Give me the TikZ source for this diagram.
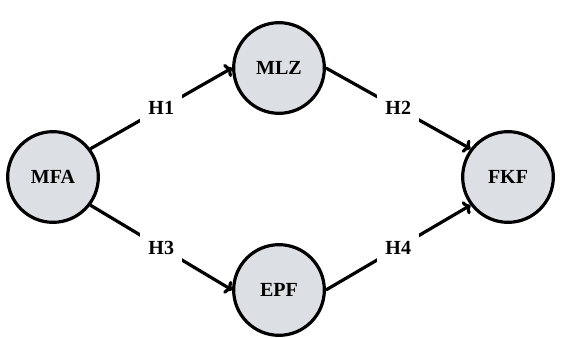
\documentclass[tikz,border=0pt]{standalone}
\usepackage{fontspec}
\setmainfont{Liberation Serif}
\usetikzlibrary{arrows.meta}
\definecolor{kreisfarbe}{RGB}{220,223,228}
\tikzset{
	konstrukt/.style={circle, draw=black, line width=2.4pt, fill=kreisfarbe, minimum size=68pt, inner sep=0pt, font=\fontsize{15}{17}\selectfont\bfseries},
	pfeil/.style={-{To[length=5pt,width=11pt]}, line width=2.4pt},
	hyp/.style={fill=white, inner sep=6pt, font=\fontsize{15}{17}\selectfont\bfseries}
}
\begin{document}
\begin{tikzpicture}[x=0.75pt, y=-0.75pt]
\useasboundingbox (0,0) rectangle (563,338);
% Konstrukte
\node[konstrukt] (MFA) at (53,177) {MFA};
\node[konstrukt] (MLZ) at (279,68) {MLZ};
\node[konstrukt] (EPF) at (279,290) {EPF};
\node[konstrukt] (FKF) at (508,177) {FKF};

% Hypothesen
\draw[pfeil] (MFA.37) -- node[hyp] {H1} (MLZ.west);
\draw[pfeil] (MLZ.east) -- node[hyp] {H2} (FKF.143);
\draw[pfeil] (MFA.-37) -- node[hyp] {H3} (EPF.west);
\draw[pfeil] (EPF.east) -- node[hyp] {H4} (FKF.-143);
\end{tikzpicture}
\end{document}
